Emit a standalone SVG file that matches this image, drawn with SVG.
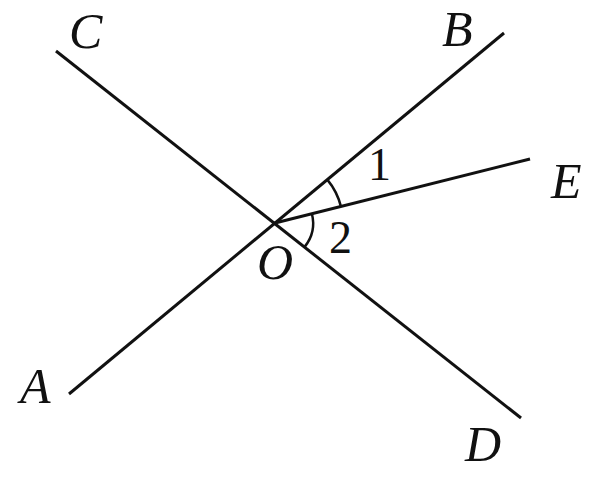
<svg xmlns="http://www.w3.org/2000/svg" width="597" height="481" viewBox="0 0 597 481">
<style>
.ln{stroke:#111;stroke-width:3;fill:none;stroke-linecap:butt}
.arc{stroke:#111;stroke-width:2.5;fill:none}
.lb{font-family:'Liberation Serif','DejaVu Serif',serif;font-style:italic;font-size:50px;fill:#111}
.nm{font-family:'Liberation Serif','DejaVu Serif',serif;font-size:46px;fill:#111}
</style>
<rect width="597" height="481" fill="#fff"/>
<g id="connectors">
<line id="AB" class="ln" x1="69" y1="394" x2="504" y2="33"/>
<line id="CD" class="ln" x1="56" y1="51" x2="521" y2="418"/>
<line id="OE" class="ln" x1="275" y1="223" x2="530" y2="159"/>
<path id="angle1" class="arc" d="M327.3,179.6 A68,68 0 0 1 340.9,206.4"/>
<path id="angle2" class="arc" d="M311.9,213.7 A38,38 0 0 1 304.8,246.6"/>
</g>
<g id="labels">
<text id="C" class="lb" x="69" y="48">C</text>
<text id="B" class="lb" x="442" y="46">B</text>
<text id="E" class="lb" x="551" y="198">E</text>
<text id="A" class="lb" x="20" y="403">A</text>
<text id="D" class="lb" x="465" y="461">D</text>
<text id="O" class="lb" x="257" y="279">O</text>
<text id="n1" class="nm" x="368" y="180">1</text>
<text id="n2" class="nm" x="329" y="253">2</text>
</g>
</svg>
